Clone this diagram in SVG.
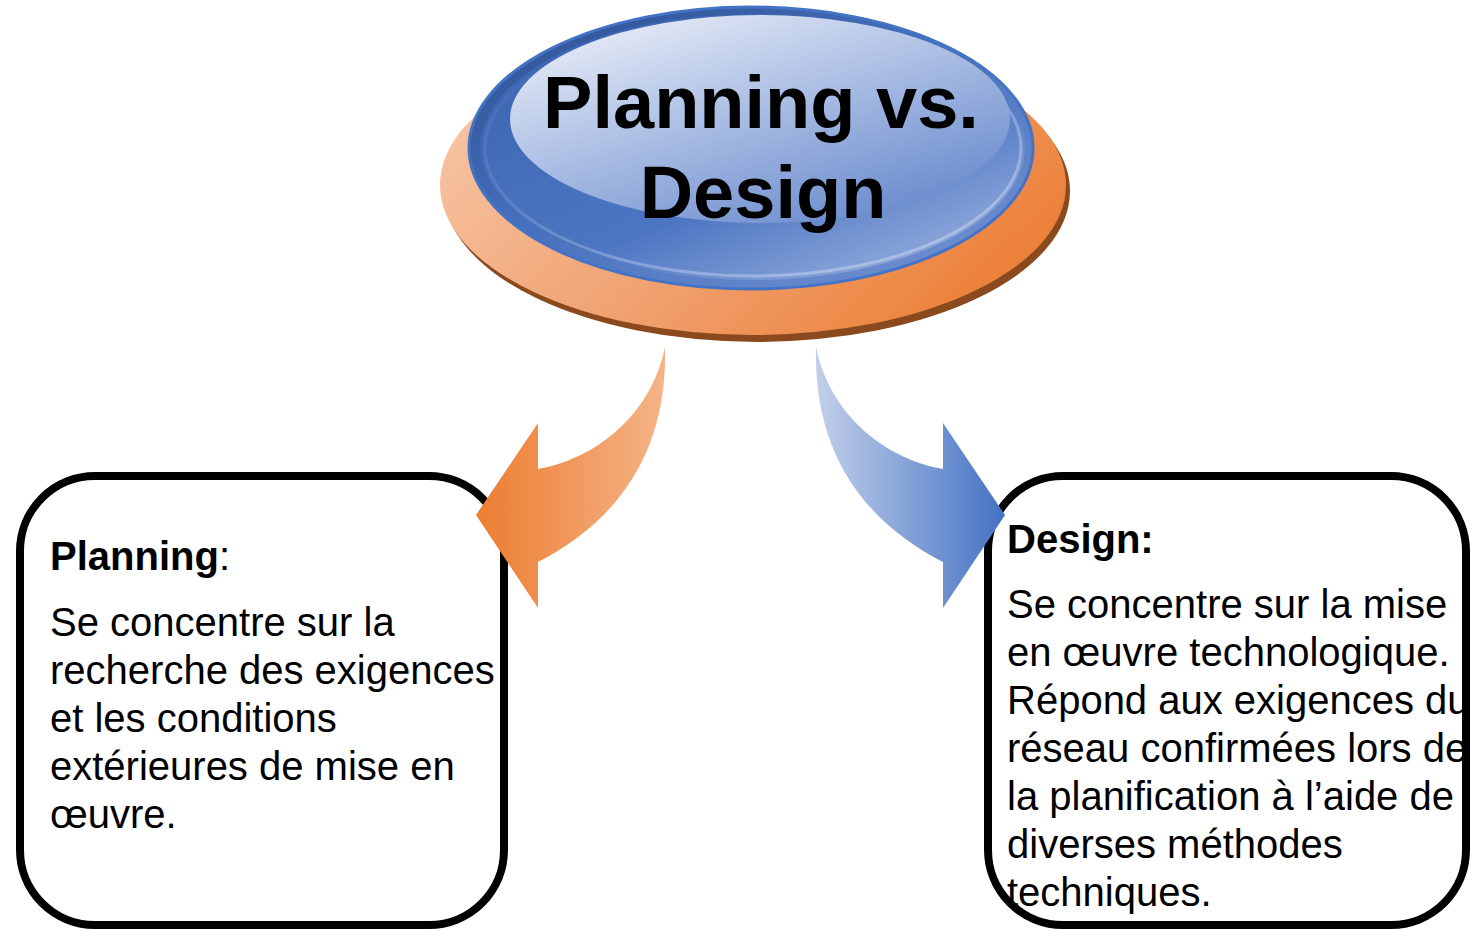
<svg xmlns="http://www.w3.org/2000/svg" width="1470" height="929" viewBox="0 0 1470 929">
<defs>
<linearGradient id="orangeG" x1="0" y1="0.3" x2="1" y2="0.8">
<stop offset="0" stop-color="#f7c4a3"/><stop offset="0.5" stop-color="#f0a06e"/><stop offset="1" stop-color="#ec7b2f"/>
</linearGradient>
<linearGradient id="blueBody" x1="0.05" y1="0" x2="0.95" y2="1">
<stop offset="0" stop-color="#2c4f8f"/><stop offset="0.45" stop-color="#4670bd"/><stop offset="1" stop-color="#7593d2"/>
</linearGradient>
<linearGradient id="blueRing" x1="0.1" y1="0" x2="0.9" y2="1">
<stop offset="0" stop-color="#3a63b0"/><stop offset="0.6" stop-color="#4d76c2"/><stop offset="1" stop-color="#9fb5e1"/>
</linearGradient>
<linearGradient id="rimLine" x1="0" y1="0" x2="0.8" y2="1">
<stop offset="0" stop-color="#5a7fc4" stop-opacity="0"/><stop offset="0.5" stop-color="#8aa3d8" stop-opacity="0.4"/><stop offset="1" stop-color="#b2c4e8" stop-opacity="1"/>
</linearGradient>
<linearGradient id="hiG" x1="0.1" y1="0" x2="0.8" y2="1">
<stop offset="0" stop-color="#eef1f9"/><stop offset="0.5" stop-color="#a8bce3"/><stop offset="1" stop-color="#6688cc"/>
</linearGradient>
<linearGradient id="arrowL" gradientUnits="userSpaceOnUse" x1="476" y1="0" x2="666" y2="0">
<stop offset="0" stop-color="#ed7d31"/><stop offset="1" stop-color="#f5b488"/>
</linearGradient>
<linearGradient id="arrowR" gradientUnits="userSpaceOnUse" x1="815" y1="0" x2="1005" y2="0">
<stop offset="0" stop-color="#c3d0ea"/><stop offset="1" stop-color="#4472c4"/>
</linearGradient>
</defs>
<style>
.box{fill:#ffffff;stroke:#000000;stroke-width:8}
.title{font-family:"Liberation Sans",Arial,sans-serif;font-weight:bold;font-size:74px;fill:#000000;text-anchor:middle}
.body{font-family:"Liberation Sans",Arial,sans-serif;font-size:40px;fill:#000000}
.b{font-weight:bold}
</style>
<rect width="1470" height="929" fill="#ffffff"/>
<g id="center">
<ellipse cx="757" cy="191" rx="313" ry="151" fill="#8a4a1e"/>
<ellipse cx="753" cy="185" rx="313" ry="150" fill="url(#orangeG)"/>
<ellipse cx="751" cy="148" rx="282" ry="141" fill="url(#blueBody)" stroke="#4472c4" stroke-width="3"/>
<ellipse cx="753" cy="147" rx="272" ry="133" fill="url(#blueRing)"/>
<ellipse cx="753" cy="148" rx="268" ry="128" fill="none" stroke="url(#rimLine)" stroke-width="3"/>
<ellipse cx="760" cy="119" rx="250" ry="104" fill="url(#hiG)"/>
<text class="title" x="761" y="128">Planning vs.</text>
<text class="title" x="763" y="218">Design</text>
</g>
<g id="planning">
<rect class="box" x="20" y="476" width="484" height="449" rx="75" ry="75"/>
<text class="body" x="50" y="570"><tspan class="b">Planning</tspan>:</text>
<text class="body" x="50" y="636">Se concentre sur la</text>
<text class="body" x="50" y="684">recherche des exigences</text>
<text class="body" x="50" y="732">et les conditions</text>
<text class="body" x="50" y="780">extérieures de mise en</text>
<text class="body" x="50" y="828">œuvre.</text>
</g>
<g id="design">
<rect class="box" x="988" y="476" width="478" height="449" rx="75" ry="75"/>
<text class="body b" x="1007" y="553">Design:</text>
<text class="body" x="1007" y="618">Se concentre sur la mise</text>
<text class="body" x="1007" y="666">en œuvre technologique.</text>
<text class="body" x="1007" y="714">Répond aux exigences du</text>
<text class="body" x="1007" y="762">réseau confirmées lors de</text>
<text class="body" x="1007" y="810">la planification à l’aide de</text>
<text class="body" x="1007" y="858">diverses méthodes</text>
<text class="body" x="1007" y="906">techniques.</text>
</g>
<g id="connectors">
<path d="M665,347 C650,420 590,460 538,469 L538,423 L476,515 L538,608 L538,562 C610,525 668,460 665,347 Z" fill="url(#arrowL)"/>
<path d="M816,347 C831,420 891,460 943,469 L943,423 L1005,515 L943,608 L943,562 C871,525 813,460 816,347 Z" fill="url(#arrowR)"/>
</g>
</svg>
